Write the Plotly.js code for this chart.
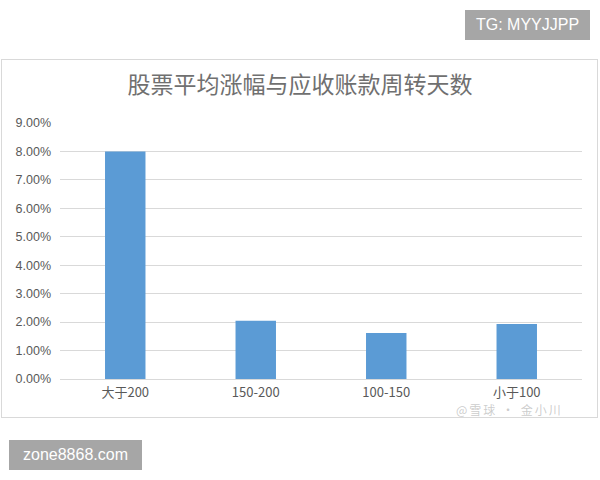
<!DOCTYPE html>
<html>
<head>
<meta charset="utf-8">
<script src="https://cdn.plot.ly/plotly-3.0.1.min.js"></script>
<style>
  html, body { margin: 0; padding: 0; background: #fff; }
  #wrap { position: relative; width: 600px; height: 480px; overflow: hidden; }
  #frame { position: absolute; left: 1px; top: 59px; width: 595px; height: 357px; border: 1px solid #d9d9d9; }
  #chart { position: absolute; left: 0; top: 0; width: 600px; height: 480px; }
  .badge { position: absolute; background: #a6a6a6; color: #fff; font-family: "Liberation Sans", Arial, sans-serif; font-size: 16px; line-height: 30px; text-align: center; }
  #tg { left: 465px; top: 10px; width: 125px; height: 30px; }
  #zone { left: 9px; top: 440px; width: 133px; height: 30px; }
  #mark { position: absolute; left: 456px; top: 403px; font-family: "Noto Sans CJK SC", sans-serif; font-size: 12px; line-height: 13px; color: rgba(170,170,170,0.6); letter-spacing: 2px; }
</style>
</head>
<body>
<div id="wrap">
  <div id="frame"></div>
  <div id="chart"></div>
  <div id="mark">@雪球 · 金小川</div>
  <div class="badge" id="tg">TG: MYYJJPP</div>
  <div class="badge" id="zone">zone8868.com</div>
</div>
<script>
(function () {
  'use strict';

  var categories = ['大于200', '150-200', '100-150', '小于100'];
  var avgGain = [0.080, 0.0205, 0.0162, 0.0193];
  var chartTitle = '股票平均涨幅与应收账款周转天数';

  var blue = '#5b9bd5';
  var grey = '#595959';

  Plotly.newPlot('chart', [{
    type: 'bar',
    x: categories,
    y: avgGain,
    marker: { color: blue },
    hoverinfo: 'x+y'
  }], {
    width: 600,
    height: 480,
    margin: { l: 60, r: 18, t: 123, b: 101 },
    paper_bgcolor: 'rgba(0,0,0,0)',
    plot_bgcolor: 'rgba(0,0,0,0)',
    showlegend: false,
    bargap: 0.69,
    title: {
      text: chartTitle,
      x: 0.5,
      xref: 'container',
      xanchor: 'center',
      y: 0.823,
      yanchor: 'middle',
      font: { family: '"Noto Sans CJK SC", sans-serif', size: 23, color: '#707070' }
    },
    xaxis: {
      type: 'category',
      showgrid: false,
      zeroline: false,
      showline: false,
      ticks: '',
      tickfont: { family: '"Noto Sans CJK SC", sans-serif', size: 13, color: grey },
      ticklabelstandoff: 4
    },
    yaxis: {
      range: [0, 0.09],
      dtick: 0.01,
      tickformat: '.2%',
      showgrid: true,
      gridcolor: '#d9d9d9',
      gridwidth: 1,
      zeroline: true,
      zerolinecolor: '#d9d9d9',
      showline: false,
      ticks: '',
      ticklabelstandoff: 8,
      tickfont: { family: '"Liberation Sans", Arial, sans-serif', size: 12.5, color: grey }
    }
  }, { displayModeBar: false, staticPlot: true });
})();
</script>
</body>
</html>
